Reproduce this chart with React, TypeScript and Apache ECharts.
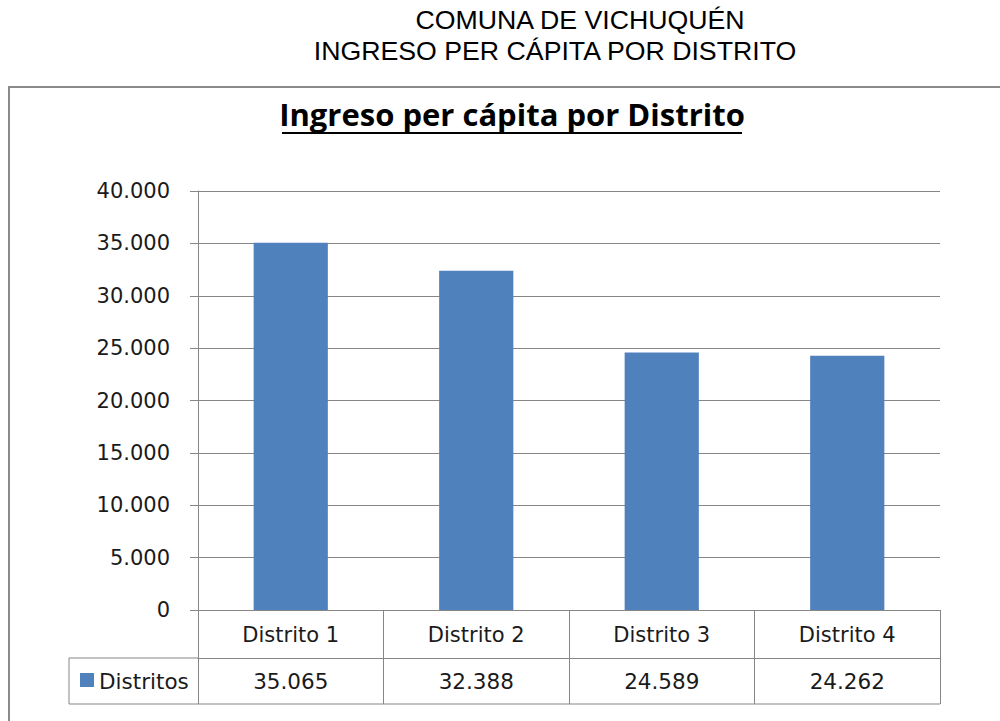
import React, { useEffect, useRef } from "react";
import * as echarts from "echarts";

const categories = ["Distrito 1", "Distrito 2", "Distrito 3", "Distrito 4"];
const values = [35065, 32388, 24589, 24262];
const seriesName = "Distritos";
const pageTitle1 = "COMUNA DE VICHUQUÉN";
const pageTitle2 = "INGRESO PER CÁPITA POR DISTRITO";
const chartTitle = "Ingreso per cápita por Distrito";

const fmt = (v: number) => String(Math.round(v)).replace(/\B(?=(\d{3})+(?!\d))/g, ".");

const GRID_L = 198;
const GRID_R = 940;
const GRID_T = 191;
const GRID_B = 610;
const ROW1 = 658;
const ROW2 = 704;
const LEG_L = 69;
const LINE = "#868686";
const FONT = "DejaVu Sans";
const TXT = "#1a1a1a";

export default function App() {
  const ref = useRef<HTMLDivElement>(null);
  useEffect(() => {
    const chart = echarts.init(ref.current!, null, { renderer: "svg" });
    chart.setOption({
      animation: false,
      backgroundColor: "#ffffff",
      grid: { left: GRID_L, right: 1000 - GRID_R, top: GRID_T, bottom: 721 - GRID_B, containLabel: false },
      xAxis: [
        {
          type: "category",
          data: categories,
          position: "bottom",
          axisLine: { show: true, lineStyle: { color: LINE, width: 1 } },
          axisTick: { show: true, length: ROW2 - GRID_B, lineStyle: { color: LINE, width: 1 } },
          axisLabel: { color: TXT, fontFamily: FONT, fontSize: 21, margin: 14 },
        },
        {
          type: "category",
          data: values.map(fmt),
          position: "bottom",
          offset: ROW1 - GRID_B,
          axisLine: { show: true, lineStyle: { color: LINE, width: 1 } },
          axisTick: { show: false },
          axisLabel: { color: TXT, fontFamily: FONT, fontSize: 21.5, margin: 12 },
        },
      ],
      yAxis: {
        type: "value",
        min: 0,
        max: 40000,
        interval: 5000,
        axisLine: { show: true, lineStyle: { color: LINE, width: 1 } },
        axisTick: { show: true, length: 8, lineStyle: { color: LINE } },
        splitLine: { show: true, lineStyle: { color: LINE, width: 1 } },
        axisLabel: { color: TXT, fontFamily: FONT, fontSize: 21, margin: 28, formatter: (v: number) => fmt(v) },
      },
      series: [
        {
          name: seriesName,
          type: "bar",
          data: values,
          barWidth: "40%",
          itemStyle: { color: "#4F81BD" },
        },
      ],
      graphic: [
        { type: "rect", shape: { x: 9, y: 87, width: 1010, height: 700 }, style: { fill: "none", stroke: "#8a8a8a", lineWidth: 2 }, silent: true },
        { type: "text", x: 580, y: 33, style: { text: pageTitle1, font: "26.7px 'Liberation Sans'", fill: "#000", textAlign: "center", textVerticalAlign: "bottom" } },
        { type: "text", x: 555, y: 64, style: { text: pageTitle2, font: "26.7px 'Liberation Sans'", fill: "#000", textAlign: "center", textVerticalAlign: "bottom" } },
        { type: "text", x: 512, y: 129, style: { text: chartTitle, font: "bold 31px 'Open Sans'", fill: "#000", textAlign: "center", textVerticalAlign: "bottom" } },
        { type: "line", shape: { x1: 282, y1: 133, x2: 742, y2: 133 }, style: { stroke: "#000", lineWidth: 2 } },
        { type: "line", shape: { x1: LEG_L, y1: ROW1, x2: GRID_L, y2: ROW1 }, style: { stroke: LINE, lineWidth: 1 } },
        { type: "line", shape: { x1: LEG_L, y1: ROW2, x2: GRID_R, y2: ROW2 }, style: { stroke: LINE, lineWidth: 1 } },
        { type: "line", shape: { x1: LEG_L, y1: ROW1, x2: LEG_L, y2: ROW2 }, style: { stroke: LINE, lineWidth: 1 } },
        { type: "rect", shape: { x: 80, y: 673, width: 14, height: 14 }, style: { fill: "#4F81BD" } },
        { type: "text", x: 99, y: 681, style: { text: seriesName, font: `21.5px '${FONT}'`, fill: TXT, textAlign: "left", textVerticalAlign: "middle" } },
      ],
    });
    return () => chart.dispose();
  }, []);
  return <div ref={ref} style={{ position: "absolute", left: 0, top: 0, width: 1000, height: 721, background: "#fff" }} />;
}
